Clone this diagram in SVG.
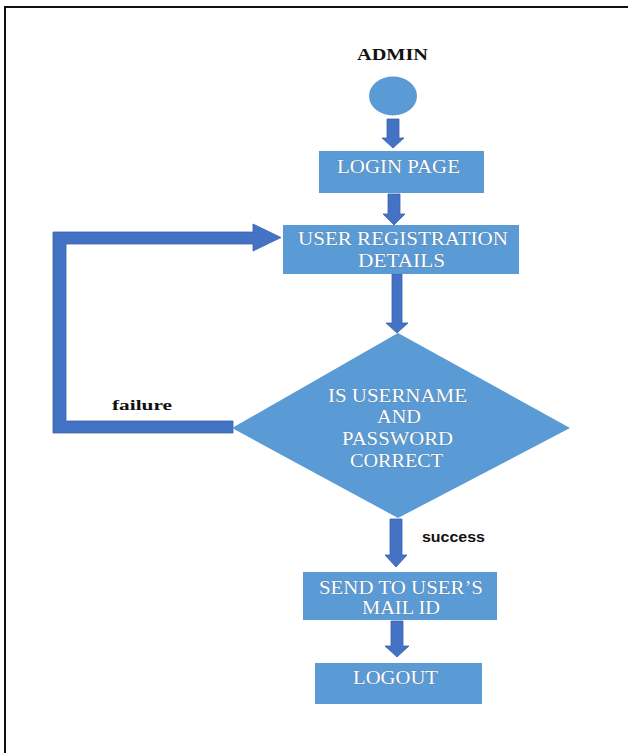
<svg xmlns="http://www.w3.org/2000/svg" width="628" height="753" viewBox="0 0 628 753">
  <style>
    .frame { fill: none; stroke: #111; stroke-width: 2; }
    .node { fill: #5B9BD5; }
    .link { fill: #4472C4; stroke: #3a62aa; stroke-width: 0.8; }
    .lbl { font-family: "Liberation Serif", "Times New Roman", serif; font-size: 18px; fill: #ffffff; text-anchor: start; stroke: rgba(70,80,95,0.45); stroke-width: 0.7; paint-order: stroke; }
    .title { font-family: "Liberation Serif", "Times New Roman", serif; font-size: 16px; font-weight: bold; fill: #111; }
    .note { font-family: "Liberation Serif", "Times New Roman", serif; font-size: 15px; font-weight: bold; fill: #111; }
    .note2 { font-family: "Liberation Sans", Arial, sans-serif; font-size: 15px; font-weight: bold; fill: #111; }
  </style>

  <!-- page frame (top and left edges) -->
  <path class="frame" d="M5 753 V7 H628"/>

  <!-- connectors -->
  <g id="connectors">
    <polygon class="link" points="387,119 399,119 399,138 404,138 393,148 382,138 387,138"/>
    <polygon class="link" points="388,194 400,194 400,214 405,214 394,225 383,214 388,214"/>
    <polygon class="link" points="392,274 402,274 402,323 408,323 397,333 386,323 392,323"/>
    <polygon class="link" points="390,519 402,519 402,555 407,555 396,567 385,555 390,555"/>
    <polygon class="link" points="391,621 403,621 403,646 409,646 397,657 385,646 391,646"/>
    <!-- failure loop back to registration -->
    <polygon class="link" points="233,421 66,421 66,244 253,244 253,251 281,237.5 253,224 253,232 53,232 53,433 233,433"/>
    <text class="note" x="112" y="410" textLength="60" lengthAdjust="spacingAndGlyphs">failure</text>
    <text class="note2" x="422" y="542" textLength="63" lengthAdjust="spacingAndGlyphs">success</text>
  </g>

  <g id="admin">
    <text class="title" x="357" y="60" textLength="71" lengthAdjust="spacingAndGlyphs">ADMIN</text>
    <ellipse class="node" cx="393" cy="96" rx="24" ry="19.5"/>
  </g>

  <g id="login-page">
    <rect class="node" x="319" y="151" width="165" height="42"/>
    <text class="lbl" x="337" y="173" textLength="123" lengthAdjust="spacingAndGlyphs">LOGIN PAGE</text>
  </g>

  <g id="user-registration">
    <rect class="node" x="283" y="225" width="236" height="49"/>
    <text class="lbl" x="298" y="245" textLength="210" lengthAdjust="spacingAndGlyphs">USER REGISTRATION</text>
    <text class="lbl" x="358" y="267" textLength="87" lengthAdjust="spacingAndGlyphs">DETAILS</text>
  </g>

  <g id="check-credentials">
    <polygon class="node" points="398,333 570,428 398,518 232,428"/>
    <text class="lbl" x="328" y="402" textLength="139" lengthAdjust="spacingAndGlyphs">IS USERNAME</text>
    <text class="lbl" x="377" y="423" textLength="44" lengthAdjust="spacingAndGlyphs">AND</text>
    <text class="lbl" x="342" y="445" textLength="111" lengthAdjust="spacingAndGlyphs">PASSWORD</text>
    <text class="lbl" x="350" y="467" textLength="93" lengthAdjust="spacingAndGlyphs">CORRECT</text>
  </g>

  <g id="send-mail">
    <rect class="node" x="303" y="572" width="194" height="48"/>
    <text class="lbl" x="319" y="594" textLength="164" lengthAdjust="spacingAndGlyphs">SEND TO USER’S</text>
    <text class="lbl" x="362" y="614" textLength="78" lengthAdjust="spacingAndGlyphs">MAIL ID</text>
  </g>

  <g id="logout">
    <rect class="node" x="315" y="663" width="167" height="41"/>
    <text class="lbl" x="353" y="684" textLength="85" lengthAdjust="spacingAndGlyphs">LOGOUT</text>
  </g>
</svg>
